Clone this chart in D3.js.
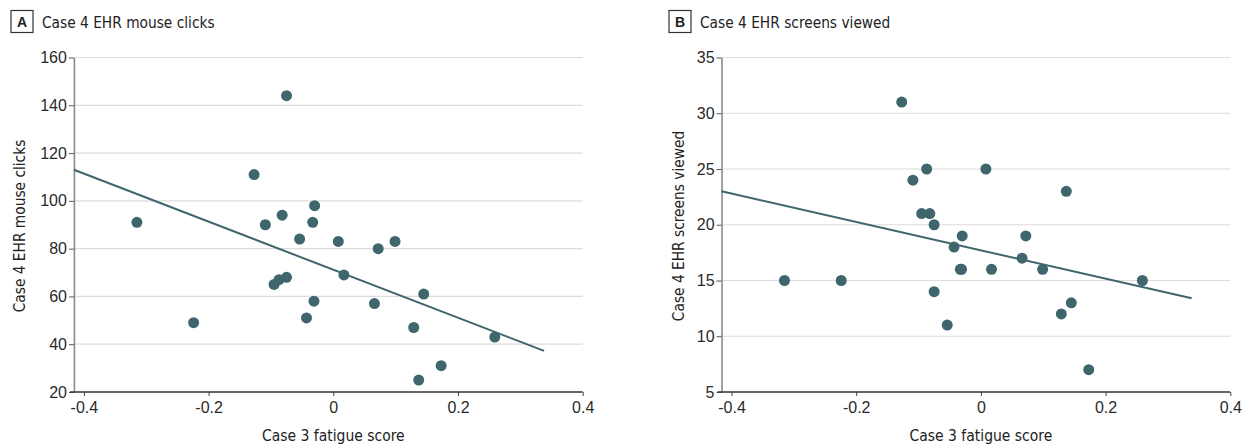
<!DOCTYPE html>
<html>
<head>
<meta charset="utf-8">
<script src="https://cdn.jsdelivr.net/npm/d3@7"></script>
<style>
  body { margin: 0; background: #fff; }
  svg { display: block; }
</style>
</head>
<body>
<script>
// Case 3 fatigue score (shared by both panels)
let fatigue = [-0.315, -0.224, -0.127, -0.109, -0.082, -0.075, -0.095, -0.087, -0.075, -0.054,
    -0.033, -0.030, -0.031, -0.043, 0.008, 0.017, 0.072, 0.099, 0.066, 0.145,
    0.129, 0.173, 0.137, 0.259];
let clicks = [91, 49, 111, 90, 94, 144, 65, 67, 68, 84, 91, 98, 58, 51, 83, 69, 80, 83, 57, 61, 47, 31, 25, 43];
let screens = [15, 15, 31, 24, 21, 20, 21, 25, 14, 11, 16, 19, 16, 18, 25, 16, 19, 16, 17, 13, 12, 7, 23, 15];

// fitted lines at the two ends
let trendX = [-0.416, 0.338];
let clicksTrend = [113, 37.2];
let screensTrend = [23.0, 13.4];

let xTicks = [-0.4, -0.2, 0, 0.2, 0.4];
let clicksTicks = [20, 40, 60, 80, 100, 120, 140, 160];
let screensTicks = [5, 10, 15, 20, 25, 30, 35];

let dotColor = "#3e666c";
let labelFont = "'DejaVu Sans Condensed', 'Liberation Sans', sans-serif";
let tickFont = "'Liberation Sans', Arial, sans-serif";

let svg = d3.select("body")
    .append("svg")
    .attr("width", 1247)
    .attr("height", 446);

function drawPanel(opt) {
    let g = svg.append("g");

    let xScale = d3.scaleLinear()
        .domain([-0.4, 0.4])
        .range(opt.xRange);

    let yScale = d3.scaleLinear()
        .domain(opt.yDomain)
        .range([392, 57.5]);

    let x0 = xScale(-0.416);
    let x1 = xScale(0.4);
    let yBottom = yScale(opt.yDomain[0]);

    // grid lines
    g.selectAll("line.grid")
        .data(opt.yTicks.slice(1))
        .enter()
        .append("line")
        .attr("class", "grid")
        .attr("x1", x0)
        .attr("x2", x1)
        .attr("y1", (d) => yScale(d))
        .attr("y2", (d) => yScale(d))
        .attr("stroke", "#dcdcdc")
        .attr("stroke-width", 1.2);

    // y axis
    let yAxis = g.append("g")
        .attr("transform", "translate(" + x0 + ",0)")
        .call(d3.axisLeft(yScale).tickValues(opt.yTicks).tickSize(5).tickPadding(2).tickSizeOuter(0));
    yAxis.select(".domain").attr("stroke", "#8a8a8a").attr("stroke-width", 1.6);
    yAxis.selectAll(".tick line").attr("stroke", "#555");
    yAxis.selectAll("text")
        .attr("font-family", tickFont)
        .attr("font-size", "16px")
        .attr("fill", "#2a2a2a");

    // x axis
    let xAxis = g.append("g")
        .attr("transform", "translate(0," + yBottom + ")")
        .call(d3.axisBottom(xScale).tickValues(xTicks).tickSize(4).tickPadding(6)
            .tickFormat((d) => d === 0 ? "0" : String(d)));
    xAxis.select(".domain").remove();
    xAxis.selectAll(".tick line").attr("stroke", "#444");
    xAxis.selectAll("text")
        .attr("font-family", tickFont)
        .attr("font-size", "16px")
        .attr("fill", "#2a2a2a");

    g.append("line")
        .attr("x1", x0 - 4)
        .attr("x2", x1)
        .attr("y1", yBottom)
        .attr("y2", yBottom)
        .attr("stroke", "#333")
        .attr("stroke-width", 1.6);

    // points
    g.selectAll("circle")
        .data(fatigue)
        .enter()
        .append("circle")
        .attr("cx", (d) => xScale(d))
        .attr("cy", (d, i) => yScale(opt.values[i]))
        .attr("r", 5.5)
        .attr("fill", dotColor);

    // fitted line
    g.append("line")
        .attr("x1", xScale(trendX[0]))
        .attr("x2", xScale(trendX[1]))
        .attr("y1", yScale(opt.trend[0]))
        .attr("y2", yScale(opt.trend[1]))
        .attr("stroke", dotColor)
        .attr("stroke-width", 2);

    // panel letter and title
    g.append("rect")
        .attr("x", opt.boxX)
        .attr("y", 10.5)
        .attr("width", 22)
        .attr("height", 22)
        .attr("fill", "none")
        .attr("stroke", "#333")
        .attr("stroke-width", 1.2);
    g.append("text")
        .attr("x", opt.boxX + 11)
        .attr("y", 27)
        .attr("text-anchor", "middle")
        .attr("font-family", tickFont)
        .attr("font-weight", "bold")
        .attr("font-size", "14px")
        .attr("fill", "#222")
        .text(opt.letter);
    g.append("text")
        .attr("x", opt.boxX + 31)
        .attr("y", 27.5)
        .attr("font-family", labelFont)
        .attr("font-size", "15.3px")
        .attr("fill", "#222")
        .text(opt.title);

    // axis titles
    g.append("text")
        .attr("x", xScale(0))
        .attr("y", 441)
        .attr("text-anchor", "middle")
        .attr("font-family", labelFont)
        .attr("font-size", "15.5px")
        .attr("fill", "#222")
        .text("Case 3 fatigue score");
    g.append("text")
        .attr("transform", "translate(" + opt.yLabelX + ",226) rotate(-90)")
        .attr("text-anchor", "middle")
        .attr("font-family", labelFont)
        .attr("font-size", "15.3px")
        .attr("fill", "#222")
        .text(opt.title);
}

drawPanel({
    letter: "A",
    title: "Case 4 EHR mouse clicks",
    values: clicks,
    trend: clicksTrend,
    yDomain: [20, 160],
    yTicks: clicksTicks,
    xRange: [83.9, 582.7],
    boxX: 11,
    yLabelX: 25
});

drawPanel({
    letter: "B",
    title: "Case 4 EHR screens viewed",
    values: screens,
    trend: screensTrend,
    yDomain: [5, 35],
    yTicks: screensTicks,
    xRange: [731.5, 1230.3],
    boxX: 669,
    yLabelX: 684
});
</script>
</body>
</html>
